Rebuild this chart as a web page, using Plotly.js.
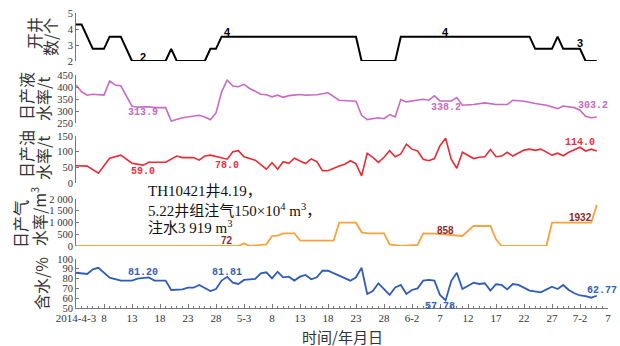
<!DOCTYPE html>
<html>
<head>
<meta charset="utf-8">
<script src="https://cdn.plot.ly/plotly-3.0.1.min.js"></script>
<style>html,body{margin:0;padding:0;background:#fff;}#chart{width:620px;height:346px;}</style>
</head>
<body>
<div id="chart"></div>
<script>
// x values are days counted from 2014-4-3
const tickDays = [0,5,10,15,20,25,30,35,40,45,50,55,60,65,70,75,80,85,90,95];
const tickLabels = ["2014-4-3","8","13","18","23","28","5-3","8","13","18","23","28","6-2","7","12","17","22","27","7-2","7"];

// 开井数/个
const wellDay = [0,1,3,5,6,8,10,16,17,18,23,24,25,26,50,51,57,58,81,82,85,86,87,90,91,93];
const wellVal = [5,5,3,3,4,4,2,2,3,2,2,3,3,4,4,2,2,4,4,3,3,4,3,3,2,2];

// 日产液水率/t
const liqDay = [0,1,2,3,5,6,7,8,10,11,13,14,16,17,19,20,22,23,24,25,26,27,28,29,30,31,33,34,35,36,37,38,40,41,42,43,45,46,47,50,51,52,54,55,56,57,58,59,60,62,63,64,65,67,68,69,71,73,75,77,78,80,82,84,86,87,89,90,91,92,93];
const liqVal = [408,380,366,370,366,425,408,405,320,316,318,314,314,258,272,275,282,275,264,292,380,428.9,404,401,411,394,370,368,359,366,357,364,369,366,366,368,376,362,345,341,282,264,272,268,285,275,348,338,341,349,345,363,342,342,356,324,327,334,327,327,345,341,331,324,310,321,314,303.2,278,272,275];

// 日产油水率/t
const oilDay = [0,2,4,6,8,10,12,13,16,18,19,21,22,23,24,26,27,28,29,30,32,34,35,36,37,38,39,40,41,42,43,44,45,47,48,49,50,51,52,53,54,55,56,57,58,59,60,61,62,63,64,65,66,67,68,69,70,71,72,73,74,75,76,77,78,79,80,81,82,83,84,85,86,87,88,89,90,91,92,93];
const oilVal = [55,54,31,79,89,63,57,66,66,86,81,81,73,86,89,81,76,100,103,84,73,44,65,44,68,63,79,70,62,77,68,39,39,54,60,71,61,23,95,82,66,82,103,84,93,124,108,102,76,71,78,119,142.8,76,47,98,89,78,82,84,107,84,86,98,86,95,105,108,104,108,98,89,95,87,98,105,114,102,108,102];

// 日产气水率/m3
const gasDay = [0,29,30,31,33,34,35,36,37,39,40,41,46,47,50,51,52,55,56,58,61,62,64,65,69,71,74,75,76,84,85,92,93];
const gasVal = [0,0,113,0,43,72,425,440,540,540,240,230,227,992,992,582,540,540,71,0,43,540,525,500,425,858,850,284,0,0,992,992,1750];

// 含水/%
const wcDay = [0,2,3,4,6,8,10,11,13,14,16,17,19,20,21,22,24,25,26,27,28,29,30,32,33,34,35,36,37,38,39,40,41,42,43,44,45,47,48,49,50,51,52,53,54,55,56,57,58,59,60,61,62,63,64,65,66,67,68,69,71,72,73,74,75,76,77,78,79,81,83,85,86,87,88,89,90,91,92,93];
const wcVal = [86,84.7,89.5,91,81,78,78,80,81.2,78,78,68.4,69,70.7,70.7,73.5,67.3,69.4,78,81.81,75.8,74.5,78.6,79.6,85.4,86.4,80.3,87,81.3,82,78,82,83.7,79.3,81.3,88,88,83,80.3,77.9,81.3,91,64.3,67.3,75.2,69,63.3,71,73.5,64.3,68.4,70,77.9,78.6,77.9,63.3,57.78,77.5,86,69.4,75.8,74.5,75.2,67.7,74.2,73.5,69,74.5,73.5,67.7,66,71.7,69.4,73.5,68.4,65,62.77,62.2,60.5,62.5];

const AX = '#777';
const serif = 'Liberation Serif, Noto Sans CJK SC, serif';
const cjk = 'Noto Sans CJK SC, sans-serif';
function yax(domain, range, anchor, extra) {
  return Object.assign({
    domain: domain, range: range, anchor: anchor,
    showline: true, linecolor: AX, linewidth: 1,
    ticks: 'inside', ticklen: 3, tickcolor: AX,
    showgrid: false, zeroline: false,
    tickfont: {family: serif, size: 10.5, color: '#333'}
  }, extra || {});
}
function hiddenX(anchor) {
  return {matches: 'x', anchor: anchor, domain: [0, 1], range: [0, 95], showline: false,
    showticklabels: false, ticks: '', showgrid: false, zeroline: false};
}

const traces = [
  // empty trace: only makes the visible 开井数 axis subplot exist (draws nothing)
  {x: [], y: [], xaxis: 'x6', yaxis: 'y', mode: 'lines', hoverinfo: 'skip'},
  {x: wellDay, y: wellVal, xaxis: 'x6', yaxis: 'y6', mode: 'lines', line: {color: '#000', width: 2}},
  {x: liqDay, y: liqVal, xaxis: 'x2', yaxis: 'y2', mode: 'lines', line: {color: '#c86ac4', width: 1.6}},
  {x: oilDay, y: oilVal, xaxis: 'x3', yaxis: 'y3', mode: 'lines', line: {color: '#ec2a33', width: 1.6}},
  {x: gasDay, y: gasVal, xaxis: 'x4', yaxis: 'y4', mode: 'lines', line: {color: '#f7a23c', width: 1.8}},
  {x: wcDay, y: wcVal, xaxis: 'x', yaxis: 'y5', mode: 'lines', line: {color: '#2f5cb7', width: 1.8}}
];

function lab(text, x, y, xref, yref, color, family, size) {
  return {text: text, x: x, y: y, xref: xref, yref: yref, showarrow: false,
    xanchor: 'center', yanchor: 'middle',
    font: {family: family, size: size, color: color, weight: 'bold'}};
}
function ytitle(text, px, py) {
  return {text: text, x: (px - 76) / 532, y: (308 - py) / 295, xref: 'paper', yref: 'paper',
    showarrow: false, textangle: -90, xanchor: 'center', yanchor: 'middle',
    font: {family: cjk, size: 16, color: '#333'}};
}
function note(text, py) {
  return {text: text, x: (146 - 76) / 532, y: (308 - py) / 295, xref: 'paper', yref: 'paper',
    showarrow: false, xanchor: 'left', yanchor: 'middle', align: 'left',
    font: {family: serif, size: 15, color: '#111'}};
}
const mono = 'Liberation Mono, DejaVu Sans Mono, monospace';
const sans = 'Liberation Sans, Arial, sans-serif';

const annotations = [
  lab('2', 12, 2.37, 'x6', 'y6', '#000', sans, 11),
  lab('4', 27, 4.38, 'x6', 'y6', '#000', sans, 11),
  lab('4', 66, 4.38, 'x6', 'y6', '#000', sans, 11),
  lab('3', 90, 3.45, 'x6', 'y6', '#000', sans, 11),
  lab('313.9', 12, 292, 'x2', 'y2', '#c46cc0', mono, 10),
  lab('428.9', 27, 460, 'x2', 'y2', '#c46cc0', mono, 10),
  lab('338.2', 66, 315, 'x2', 'y2', '#c46cc0', mono, 10),
  lab('303.2', 92.3, 325, 'x2', 'y2', '#c46cc0', mono, 10),
  lab('59.0', 12, 36, 'x3', 'y3', '#e8303a', mono, 10),
  lab('78.0', 27, 57, 'x3', 'y3', '#e8303a', mono, 10),
  lab('142.8', 66, 162, 'x3', 'y3', '#e8303a', mono, 10),
  lab('114.0', 90, 130, 'x3', 'y3', '#e8303a', mono, 10),
  lab('72', 27, 234, 'x4', 'y4', '#8b2a2a', sans, 10),
  lab('858', 66, 651, 'x4', 'y4', '#8b2a2a', sans, 10),
  lab('1932', 90, 1221, 'x4', 'y4', '#8b2a2a', sans, 10),
  lab('81.20', 12, 86.4, 'x', 'y5', '#3660b5', mono, 10),
  lab('81.81', 27, 86.4, 'x', 'y5', '#3660b5', mono, 10),
  lab('57.78', 65, 51.5, 'x', 'y5', '#3660b5', mono, 10),
  lab('62.77', 94, 67.7, 'x', 'y5', '#3660b5', mono, 10),
  ytitle('开井', 34, 33),
  ytitle('数/个', 50, 37),
  ytitle('日产液', 26, 96),
  ytitle('水率/t', 43, 99),
  ytitle('日产油', 26, 154),
  ytitle('水率/t', 43, 158),
  ytitle('日产气', 20, 224),
  ytitle('水率/m<sup>3</sup>', 38, 217),
  ytitle('含水/%', 41, 284),
  {text: '时间/年月日', x: 0.5, y: (308 - 336) / 295, xref: 'paper', yref: 'paper',
    showarrow: false, xanchor: 'center', yanchor: 'middle',
    font: {family: cjk, size: 15, color: '#333'}},
  note('TH10421井4.19，', 190.7),
  note('5.22井组注气150×10<sup>4</sup> m<sup>3</sup>，', 209.7),
  note('注水3 919 m<sup>3</sup>', 227.3)
];

const layout = {
  width: 620, height: 346,
  margin: {l: 76, r: 12, t: 13, b: 38},
  paper_bgcolor: '#fff', plot_bgcolor: 'rgba(0,0,0,0)',
  showlegend: false,
  xaxis: {
    domain: [0, 1], range: [0, 95], anchor: 'y5',
    showline: true, linecolor: AX, linewidth: 1,
    tickmode: 'array', tickvals: tickDays, ticktext: tickLabels,
    ticks: 'inside', ticklen: 4, tickcolor: AX,
    minor: {tickmode: 'linear', tick0: 0, dtick: 1, ticks: 'inside', ticklen: 2, tickcolor: AX},
    showgrid: false, zeroline: false,
    tickfont: {family: serif, size: 11, color: '#333'}
  },
  xaxis2: hiddenX('y2'),
  xaxis3: hiddenX('y3'),
  xaxis4: hiddenX('y4'),
  xaxis6: hiddenX('y'),
  yaxis: yax([0.8373, 1], [2, 5], 'x6', {tickvals: [2, 3, 4, 5]}),
  yaxis6: {overlaying: 'y', anchor: 'x6', domain: [0.8373, 1], range: [2, 5.95], visible: false},
  yaxis2: yax([0.6271, 0.7898], [250, 450], 'x2', {tickvals: [250, 300, 350, 400, 450]}),
  yaxis3: yax([0.4237, 0.5831], [0, 150], 'x3', {tickvals: [0, 50, 100, 150]}),
  yaxis4: yax([0.2102, 0.3695], [0, 2000], 'x4', {tickvals: [0, 500, 1000, 1500, 2000], ticktext: ['0', '500', '1 000', '1 500', '2 000']}),
  yaxis5: yax([0, 0.1661], [50, 100], 'x', {tickvals: [50, 60, 70, 80, 90, 100]}),
  annotations: annotations
};

Plotly.newPlot('chart', traces, layout, {staticPlot: true, displayModeBar: false});
</script>
</body>
</html>
